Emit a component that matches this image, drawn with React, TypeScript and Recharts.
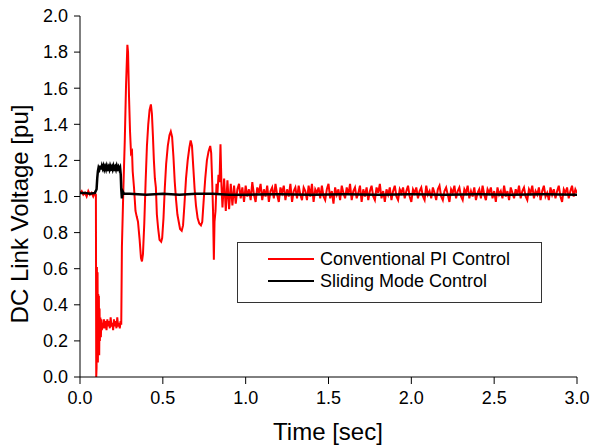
import { LineChart, Line, XAxis, YAxis, Legend, Label } from 'recharts';

const FONT = '"Liberation Sans", Arial, sans-serif';

// Axis ticks
const xTicks = [0, 0.5, 1, 1.5, 2, 2.5, 3];
const yTicks = [0, 0.2, 0.4, 0.6, 0.8, 1.0, 1.2, 1.4, 1.6, 1.8, 2.0];

const seriesNames = ['Conventional PI Control', 'Sliding Mode Control'];
const seriesColors = ['#ff0000', '#000000'];

// Conventional PI: start-up transient as [time, pu]
const piTransient: [number, number][] = [
  [0.0, 1.02], [0.01, 1.03], [0.02, 1.01], [0.03, 1.02], [0.04, 1.0], [0.05, 1.03],
  [0.06, 1.01], [0.07, 1.02], [0.08, 1.0], [0.09, 1.02], [0.096, 1.01],
  [0.098, 0.0], [0.1, 0.05], [0.102, 0.61], [0.104, 0.1], [0.106, 0.58], [0.108, 0.08],
  [0.11, 0.46], [0.112, 0.15], [0.114, 0.45], [0.116, 0.12], [0.118, 0.38], [0.12, 0.2],
  [0.123, 0.33], [0.126, 0.22], [0.129, 0.32], [0.132, 0.26], [0.135, 0.3], [0.14, 0.27],
  [0.145, 0.32], [0.15, 0.27], [0.155, 0.31], [0.16, 0.26], [0.165, 0.32], [0.17, 0.28],
  [0.175, 0.31], [0.18, 0.27], [0.185, 0.33], [0.19, 0.28], [0.195, 0.3], [0.2, 0.26],
  [0.205, 0.32], [0.21, 0.28], [0.215, 0.31], [0.22, 0.27], [0.225, 0.33], [0.23, 0.28],
  [0.235, 0.3], [0.24, 0.27], [0.245, 0.31], [0.249, 0.29],
  [0.253, 0.72], [0.262, 1.05], [0.27, 1.3], [0.278, 1.62], [0.286, 1.84], [0.29, 1.8],
  [0.296, 1.55], [0.302, 1.36], [0.308, 1.24], [0.314, 1.25], [0.318, 1.14], [0.326, 1.05],
  [0.335, 0.92], [0.342, 0.89], [0.35, 0.86], [0.36, 0.76], [0.368, 0.66], [0.374, 0.64],
  [0.38, 0.68], [0.388, 0.85], [0.396, 1.08], [0.404, 1.28], [0.412, 1.4], [0.42, 1.48],
  [0.428, 1.51], [0.434, 1.46], [0.44, 1.34], [0.446, 1.2], [0.452, 1.1], [0.458, 1.05],
  [0.464, 0.9], [0.472, 0.82], [0.48, 0.76], [0.49, 0.75], [0.496, 0.77], [0.504, 0.88],
  [0.512, 1.05], [0.52, 1.18], [0.53, 1.28], [0.54, 1.34], [0.548, 1.36], [0.556, 1.33],
  [0.564, 1.22], [0.572, 1.08], [0.58, 0.98], [0.588, 0.9], [0.596, 0.86], [0.604, 0.82],
  [0.614, 0.81], [0.622, 0.84], [0.63, 0.95], [0.64, 1.1], [0.65, 1.2], [0.66, 1.27],
  [0.668, 1.31], [0.676, 1.28], [0.684, 1.16], [0.692, 1.04], [0.7, 0.95], [0.71, 0.88],
  [0.72, 0.85], [0.73, 0.84], [0.738, 0.86], [0.746, 0.97], [0.756, 1.1], [0.766, 1.2],
  [0.776, 1.25], [0.786, 1.28], [0.792, 1.24], [0.798, 1.08], [0.803, 0.92], [0.808, 0.65],
  [0.812, 0.86], [0.818, 0.92], [0.824, 1.07], [0.83, 1.02], [0.836, 1.12], [0.842, 1.08],
  [0.848, 1.29], [0.854, 1.06],
];

// Conventional PI: steady-state ripple, one sample every 10 ms from 0.86 s
const piTailStart = 0.86;
const piTailStep = 0.01;
const piTail = [
  0.94, 1.1, 0.92, 1.09, 0.93, 1.07, 0.95, 1.06, 0.96, 1.04,
  1.07, 0.99, 1.05, 0.97, 1.06, 1.0, 1.04, 0.98, 1.08, 1.01,
  0.97, 1.05, 1.02, 1.07, 0.98, 1.04, 1.0, 1.06, 0.97, 1.03,
  1.05, 0.99, 1.07, 1.01, 0.97, 1.05, 1.02, 1.06, 0.98, 1.04,
  1.0, 1.07, 0.97, 1.03, 1.05, 0.99, 1.06, 1.01, 0.98, 1.05,
  1.03, 0.98, 1.06, 1.0, 1.07, 0.97, 1.04, 1.02, 1.05, 0.99,
  1.06, 1.0, 0.98, 1.04, 1.07, 0.99, 1.03, 0.96, 1.05, 1.01,
  1.04, 0.98, 1.06, 1.02, 0.99, 1.05, 1.01, 1.07, 0.98, 1.03,
  1.05, 0.99, 1.02, 1.06, 0.97, 1.04, 1.0, 1.05, 0.98, 1.03,
  1.06, 1.0, 0.98, 1.05, 1.02, 1.07, 0.99, 1.03, 0.97, 1.04,
  1.01, 1.05, 0.98, 1.03, 1.06, 1.0, 0.98, 1.04, 1.02, 1.05,
  0.99, 1.03, 1.06, 1.0, 0.97, 1.04, 1.02, 1.05, 0.99, 1.03,
  1.05, 1.0, 0.98, 1.06, 1.01, 1.03, 0.99, 1.05, 1.02, 0.98,
  1.04, 1.06, 1.0, 0.98, 1.03, 1.05, 1.01, 0.97, 1.04, 1.02,
  1.06, 0.99, 1.03, 1.05, 1.0, 0.98, 1.04, 1.02, 1.06, 0.99,
  1.03, 1.0, 1.05, 0.98, 1.02, 1.04, 0.99, 1.06, 1.01, 0.98,
  1.04, 1.02, 1.05, 0.99, 1.03, 0.97, 1.05, 1.01, 1.03, 0.99,
  1.06, 1.0, 1.03, 0.98, 1.05, 1.02, 0.99, 1.04, 1.01, 1.06,
  0.99, 1.03, 1.05, 1.0, 0.98, 1.04, 1.02, 1.06, 0.99, 1.03,
  1.01, 1.05, 0.98, 1.03, 1.06, 1.0, 1.02, 0.98, 1.05, 1.01,
  1.04, 0.99, 1.03, 1.06, 1.0, 0.97, 1.04, 1.02, 1.05, 0.99,
  1.03, 1.06, 1.0, 1.04, 1.02,
];

// Sliding mode control as [time, pu]
const smcPoints: [number, number][] = [
  [0.0, 1.02], [0.03, 1.02], [0.06, 1.015], [0.09, 1.02], [0.1, 1.04], [0.104, 1.1],
  [0.108, 1.14], [0.112, 1.16], [0.117, 1.15], [0.122, 1.17], [0.127, 1.15], [0.132, 1.17],
  [0.137, 1.155], [0.142, 1.17], [0.147, 1.15], [0.152, 1.165], [0.157, 1.15], [0.162, 1.17],
  [0.167, 1.155], [0.172, 1.165], [0.177, 1.15], [0.182, 1.17], [0.187, 1.155], [0.192, 1.165],
  [0.197, 1.15], [0.202, 1.17], [0.207, 1.155], [0.212, 1.165], [0.217, 1.15], [0.222, 1.17],
  [0.227, 1.155], [0.232, 1.165], [0.237, 1.15], [0.242, 1.16], [0.246, 1.12], [0.249, 1.04],
  [0.253, 0.99], [0.257, 1.03], [0.265, 1.015], [0.3, 1.015], [0.4, 1.01], [0.5, 1.015],
  [0.6, 1.01], [0.7, 1.015], [0.8, 1.015], [0.9, 1.01], [1.0, 1.01], [1.2, 1.012],
  [1.4, 1.01], [1.6, 1.012], [1.8, 1.01], [2.0, 1.012], [2.2, 1.01], [2.4, 1.012],
  [2.6, 1.01], [2.8, 1.012], [3.0, 1.01],
];

const piData = [
  ...piTransient.map(([t, v]) => ({ t, v })),
  ...piTail.map((v, i) => ({ t: +(piTailStart + i * piTailStep).toFixed(3), v })),
];
const smcData = smcPoints.map(([t, v]) => ({ t, v }));

function LegendBox() {
  return (
    <div
      style={{
        width: 303,
        height: 54,
        border: '1px solid #333',
        background: '#fff',
        fontFamily: FONT,
        fontSize: 18,
        color: '#000',
        paddingTop: 5,
        boxSizing: 'content-box',
      }}
    >
      {seriesNames.map((name, i) => (
        <div key={name} style={{ display: 'flex', alignItems: 'center', height: 22, marginLeft: 30 }}>
          <svg width={46} height={4}>
            <line x1={0} y1={2} x2={46} y2={2} stroke={seriesColors[i]} strokeWidth={2} />
          </svg>
          <span style={{ marginLeft: 6, lineHeight: '22px' }}>{name}</span>
        </div>
      ))}
    </div>
  );
}

export default function App() {
  const tickStyle = { fill: '#000', fontSize: 18, fontFamily: FONT };
  return (
    <div style={{ position: 'absolute', left: 0, top: 0, background: '#fff' }}>
      <LineChart width={590} height={445} margin={{ top: 16, right: 13, left: 0, bottom: 0 }}>
        <XAxis
          type="number"
          dataKey="t"
          domain={[0, 3]}
          ticks={xTicks}
          allowDataOverflow
          height={68}
          tickFormatter={(v: number) => v.toFixed(1)}
          tick={tickStyle}
          tickSize={7}
          tickMargin={7}
          stroke="#000"
          interval={0}
        >
          <Label
            content={() => (
              <text x={328} y={440} textAnchor="middle" fontSize={24} fontFamily={FONT} fill="#000">
                Time [sec]
              </text>
            )}
          />
        </XAxis>
        <YAxis
          type="number"
          domain={[0, 2]}
          ticks={yTicks}
          allowDataOverflow
          width={80}
          tickFormatter={(v: number) => v.toFixed(1)}
          tick={tickStyle}
          tickSize={6}
          tickMargin={6}
          stroke="#000"
          interval={0}
        >
          <Label
            content={() => (
              <text
                x={28}
                y={214}
                transform="rotate(-90 28 214)"
                textAnchor="middle"
                fontSize={24}
                fontFamily={FONT}
                fill="#000"
              >
                DC Link Voltage [pu]
              </text>
            )}
          />
        </YAxis>
        <Legend
          layout="vertical"
          align="center"
          verticalAlign="middle"
          content={() => <LegendBox />}
          wrapperStyle={{ left: 237, top: 242, width: 305, height: 60 }}
        />
        <Line
          data={piData}
          dataKey="v"
          name={seriesNames[0]}
          type="linear"
          stroke={seriesColors[0]}
          strokeWidth={2}
          dot={false}
          isAnimationActive={false}
        />
        <Line
          data={smcData}
          dataKey="v"
          name={seriesNames[1]}
          type="linear"
          stroke={seriesColors[1]}
          strokeWidth={2.5}
          dot={false}
          isAnimationActive={false}
        />
      </LineChart>
    </div>
  );
}
